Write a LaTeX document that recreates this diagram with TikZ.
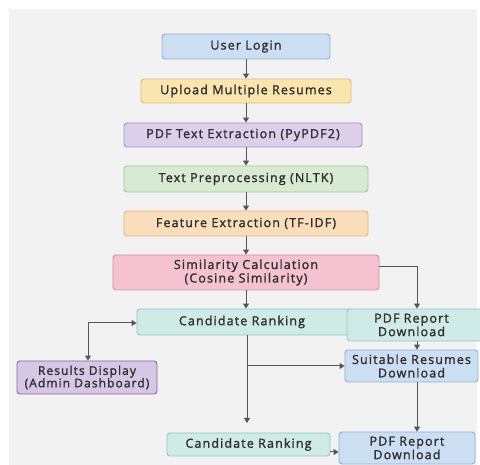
\documentclass[tikz,border=0pt]{standalone}
\usepackage{fontspec}
\setmainfont{Open Sans}
\newfontfamily\lblfont{Open Sans}[FakeBold=1.6, LetterSpace=9]
\usetikzlibrary{arrows.meta}
\definecolor{bgc}{HTML}{F2F2F2}
\definecolor{txt}{HTML}{303030}
\definecolor{arr}{HTML}{555555}
\definecolor{blu}{HTML}{CCDFF2}
\definecolor{blub}{HTML}{8FB0D4}
\definecolor{yel}{HTML}{FBE5AE}
\definecolor{yelb}{HTML}{DDBE72}
\definecolor{lav}{HTML}{DCCFEA}
\definecolor{lavb}{HTML}{A592C4}
\definecolor{grn}{HTML}{D6EBD1}
\definecolor{grnb}{HTML}{9FC79A}
\definecolor{org}{HTML}{FADDBA}
\definecolor{orgb}{HTML}{E2B47F}
\definecolor{pnk}{HTML}{F4C2D0}
\definecolor{pnkb}{HTML}{D98EA3}
\definecolor{tea}{HTML}{CFEBE8}
\definecolor{teab}{HTML}{8FC7C1}
\definecolor{plv}{HTML}{D6C7E6}
\definecolor{plvb}{HTML}{7F6A9C}
\tikzset{
  box/.style={draw, rounded corners=3pt, line width=0.9pt, align=center, inner sep=0pt,
    text=txt, font=\lblfont\fontsize{12.5}{13.5}\selectfont},
  bluebox/.style={box, fill=blu, draw=blub},
  tealbox/.style={box, fill=tea, draw=teab},
  conn/.style={draw=arr, line width=1pt, -{Triangle[length=5pt,width=6pt]}},
}
\begin{document}
\begin{tikzpicture}[x=1pt,y=-1pt]
\useasboundingbox (0,0) rectangle (480,465);
\fill[white] (0,0) rectangle (480,465);
\fill[bgc] (9,9) rectangle (477,465);
\node[bluebox, minimum width=168pt, minimum height=25pt] (login) at (246,46.5) {User Login};
\node[box, fill=yel, draw=yelb, minimum width=210pt, minimum height=24pt] (upload) at (246,91) {Upload Multiple Resumes};
\node[box, fill=lav, draw=lavb, minimum width=238pt, minimum height=24pt] (pdfx) at (243,135) {PDF Text Extraction (PyPDF2)};
\node[box, fill=grn, draw=grnb, minimum width=244pt, minimum height=26pt] (prep) at (246,179) {Text Preprocessing (NLTK)};
\node[box, fill=org, draw=orgb, minimum width=244pt, minimum height=25pt] (feat) at (246,223.5) {Feature Extraction (TF-IDF)};
\node[box, fill=pnk, draw=pnkb, minimum width=266pt, minimum height=35pt] (sim) at (246,272.5) {Similarity Calculation\\(Cosine Similarity)};
\node[tealbox, minimum width=218pt, minimum height=26pt] (rank) at (246,322) {\hspace*{-8pt}Candidate Ranking};
\node[tealbox, minimum width=143pt, minimum height=32pt, text width=125pt] (pdfa) at (418.5,325) {\hspace*{-14pt}PDF Report\\\hspace*{-14pt}Download};
\node[bluebox, minimum width=133pt, minimum height=32pt] (suit) at (411.5,366) {Suitable Resumes\\Download};
\node[box, fill=plv, draw=plvb, minimum width=140pt, minimum height=33pt, font=\lblfont\fontsize{12}{12.5}\selectfont] (res) at (87,377.5) {Results Display\\(Admin Dashboard)};
\node[tealbox, minimum width=163pt, minimum height=23pt] (rank2) at (248.5,444.5) {Candidate Ranking};
\node[bluebox, minimum width=136pt, minimum height=32pt] (pdfb) at (407,448) {PDF Report\\Download};
\coordinate (c1) at (417,267);
\coordinate (c2) at (88,323);
\coordinate (c3) at (247,366);
\coordinate (c4) at (247,423);
\coordinate (c5) at (417,0);
\coordinate (c6) at (330,452);
\draw[conn] (login) -- (upload);
\draw[conn] (upload.south) -- (upload.south |- pdfx.north);
\draw[conn] (pdfx.south -| upload.south) -- (prep.north);
\draw[conn] (prep) -- (feat);
\draw[conn] (feat) -- (sim);
\draw[conn] (sim) -- (rank);
\draw[conn] (sim.east |- c1) -- (c1) -- (c1 |- pdfa.north);
\draw[conn, {Triangle[length=5pt,width=6pt]}-{Triangle[length=5pt,width=6pt]}] (res.north -| c2) -- (c2) -- (rank.west |- c2);
\draw[conn] (rank.south -| c3) -- (c4);
\draw[conn] (c3) -- (c3 -| suit.west);
\draw[conn] (pdfa.south -| c5) -- (suit.north -| c5);
\draw[conn] (suit.south -| c5) -- (pdfb.north -| c5);
\draw[conn] (c6) -- (c6 -| pdfb.west);
\end{tikzpicture}
\end{document}
